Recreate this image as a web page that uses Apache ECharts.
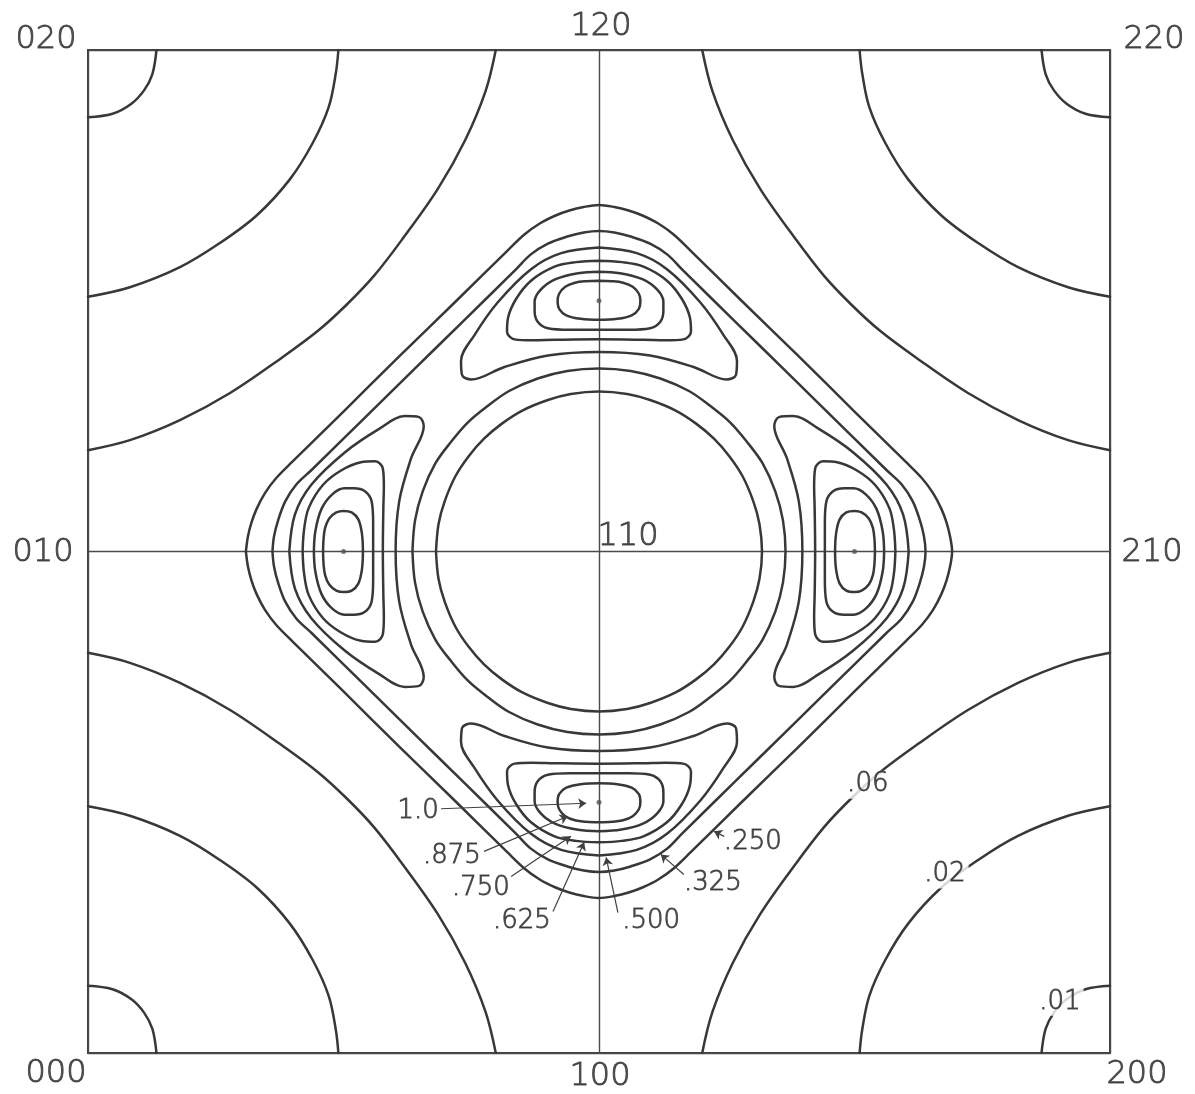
<!DOCTYPE html>
<html>
<head>
<meta charset="utf-8">
<title>Contour map, (hk0) section</title>
<script src="https://cdn.jsdelivr.net/npm/echarts@6/dist/echarts.min.js"></script>
<style>
  html, body { margin: 0; padding: 0; background: #ffffff; }
  #chart { width: 1195px; height: 1094px; }
</style>
</head>
<body>
<div id="chart"></div>
<script>
// Lattice point labels, rows k = 0, 1, 2; columns h = 0, 1, 2
const latticeRows = [
  ['000', '100', '200'],
  ['010', '110', '210'],
  ['020', '120', '220']
];

// Corner contours, traced in the 000-020-120-110 quadrant as [h, k]
const corner01 = [[0, 1.866], [0.048, 1.873], [0.085, 1.893], [0.110, 1.920], [0.126, 1.952], [0.134, 2.0]];
const corner02 = [[0, 1.508], [0.082, 1.527], [0.180, 1.567], [0.258, 1.615], [0.330, 1.670], [0.395, 1.742],
                  [0.440, 1.815], [0.471, 1.886], [0.485, 1.954], [0.490, 2.0]];
const corner06 = [[0, 1.202], [0.082, 1.222], [0.180, 1.262], [0.278, 1.316], [0.376, 1.384], [0.450, 1.440],
                  [0.507, 1.493], [0.560, 1.550], [0.616, 1.624], [0.684, 1.722], [0.738, 1.820],
                  [0.778, 1.918], [0.798, 2.0]];

// Contours around 110, one octant as offsets [dh, dk], from the -h tip to the diagonal
const diamond250 = [[-0.691, 0], [-0.687, 0.030], [-0.680, 0.058], [-0.670, 0.085], [-0.654, 0.116],
                    [-0.632, 0.146], [-0.600, 0.179], [-0.500, 0.279], [-0.390, 0.390]];
const diamond325 = [[-0.639, 0], [-0.636, 0.030], [-0.628, 0.062], [-0.614, 0.100], [-0.592, 0.134],
                    [-0.562, 0.163], [-0.460, 0.265], [-0.3625, 0.3625]];
const ringOuter = [[-0.365, 0], [-0.360, 0.062], [-0.345, 0.120], [-0.320, 0.176], [-0.290, 0.218], [-0.257, 0.257]];
const ringInner = [[-0.319, 0], [-0.314, 0.055], [-0.302, 0.100], [-0.281, 0.150], [-0.255, 0.190], [-0.225, 0.225]];

// Peak contours around 120, half loop as [along h, outward k], top -> left end -> bottom
const peak500 = [[0, 0.106], [-0.074, 0.095], [-0.133, 0.063], [-0.198, -0.003], [-0.244, -0.069],
                 [-0.270, -0.120], [-0.268, -0.148], [-0.250, -0.157], [-0.185, -0.132], [-0.100, -0.109], [0, -0.102]];
const peak625 = [[0, 0.080], [-0.045, 0.077], [-0.087, 0.068], [-0.133, 0.040], [-0.162, 0.004],
                 [-0.178, -0.034], [-0.180, -0.062], [-0.165, -0.077], [-0.130, -0.079], [-0.087, -0.078], [0, -0.077]];
const peak750 = [[0, 0.058], [-0.041, 0.055], [-0.085, 0.043], [-0.114, 0.022], [-0.126, -0.002],
                 [-0.126, -0.020], [-0.120, -0.042], [-0.100, -0.055], [-0.058, -0.058], [0, -0.058]];
const peak875 = [[0, 0.040], [-0.025, 0.039], [-0.047, 0.036], [-0.066, 0.028], [-0.078, 0.014],
                 [-0.081, 0], [-0.078, -0.016], [-0.064, -0.029], [-0.036, -0.036], [0, -0.038]];
const peakCentres = [[0.5, 1], [1, 1.5], [1.5, 1], [1, 0.5]];

// Level labels with their leaders
const levelLabels = ['1.0', '.875', '.750', '.625', '.500', '.325', '.250'];
const levelTextAt = [[0.646, 0.482], [0.712, 0.392], [0.769, 0.328], [0.849, 0.262], [1.102, 0.262], [1.223, 0.338], [1.301, 0.420]];
const leaderFrom = [[0.691, 0.487], [0.775, 0.402], [0.828, 0.352], [0.910, 0.282], [1.037, 0.280], [1.166, 0.356], [1.245, 0.432]];
const leaderTo = [[0.975, 0.498], [0.939, 0.472], [0.945, 0.432], [0.971, 0.420], [1.014, 0.390], [1.121, 0.396], [1.225, 0.442]];
const outerLabels = ['.06', '.02', '.01'];
const outerTextAt = [[1.526, 0.535], [1.677, 0.356], [1.902, 0.102]];

// ---- geometry helpers -------------------------------------------------
// the map has mirror lines h = 1, k = 1 and the diagonals through 110
function loopFromOctant(oct) {
  const q = oct.concat(oct.slice(0, -1).reverse().map(([x, y]) => [-y, -x]));
  const half = q.concat(q.slice(0, -1).reverse().map(([x, y]) => [-x, y]));
  const full = half.concat(half.slice(0, -1).reverse().map(([x, y]) => [x, -y]));
  return full.map(([x, y]) => [1 + x, 1 + y]);
}
function peakLoops(half) {
  const loop = half.concat(half.slice(0, -1).reverse().map(([x, y]) => [-x, y]));
  return [
    loop.map(([x, y]) => [1 + x, 1.5 + y]),
    loop.map(([x, y]) => [1 + x, 0.5 - y]),
    loop.map(([x, y]) => [0.5 - y, 1 - x]),
    loop.map(([x, y]) => [1.5 + y, 1 - x])
  ];
}
function cornerCopies(c) {
  return [
    c,
    c.map(([x, y]) => [2 - x, y]),
    c.map(([x, y]) => [x, 2 - y]),
    c.map(([x, y]) => [2 - x, 2 - y])
  ];
}

const INK = '#383838';
const paths = []
  .concat(cornerCopies(corner01), cornerCopies(corner02), cornerCopies(corner06))
  .concat([diamond250, diamond325, ringOuter, ringInner].map(loopFromOctant))
  .concat(peakLoops(peak500), peakLoops(peak625), peakLoops(peak750), peakLoops(peak875));

const series = paths.map(p => ({
  type: 'line',
  data: p,
  showSymbol: false,
  smooth: 0.35,
  silent: true,
  lineStyle: { color: INK, width: 2.5, cap: 'round', join: 'round' },
  z: 2
}));

// peak points
series.push({
  type: 'scatter',
  data: peakCentres,
  symbol: 'circle',
  symbolSize: 5,
  itemStyle: { color: '#555' },
  silent: true,
  z: 3
});

// leaders with arrow heads
series.push({
  type: 'lines',
  coordinateSystem: 'cartesian2d',
  data: leaderFrom.map((f, i) => ({ coords: [f, leaderTo[i]] })),
  symbol: ['none', 'arrow'],
  symbolSize: 8,
  lineStyle: { color: '#404040', width: 1.2, opacity: 1 },
  silent: true,
  z: 4
});

const textFont = {
  fontFamily: "'DejaVu Sans', sans-serif", fontWeight: 300, color: '#2f2f2f',
  textBorderColor: '#2f2f2f', textBorderWidth: 0.9
};

// level labels
series.push({
  type: 'scatter',
  clip: false,
  symbolSize: 1,
  itemStyle: { color: 'rgba(0,0,0,0)' },
  silent: true,
  z: 5,
  data: levelLabels.map((t, i) => ({ value: levelTextAt[i], name: t }))
    .concat(outerLabels.map((t, i) => ({
      value: outerTextAt[i], name: t,
      label: { backgroundColor: '#ffffff', padding: [1, 3] }
    }))),
  label: Object.assign({
    show: true, position: 'inside', formatter: '{b}', fontSize: 26,
    align: 'center', verticalAlign: 'middle'
  }, textFont)
});

// lattice point labels, set off from their points
const latticeOffsets = [
  [[-32, 21], [1, 24], [27, 22]],
  [[-45, 1], [29, -15], [42, 1]],
  [[-42, -10], [2, -23], [44, -10]]
];
const latticeData = [];
latticeRows.forEach((row, k) => row.forEach((t, h) => {
  latticeData.push({ value: [h, k], name: t, label: { offset: latticeOffsets[k][h] } });
}));
series.push({
  type: 'scatter',
  clip: false,
  symbolSize: 1,
  itemStyle: { color: 'rgba(0,0,0,0)' },
  silent: true,
  z: 5,
  data: latticeData,
  label: Object.assign({
    show: true, position: 'inside', formatter: '{b}', fontSize: 32,
    align: 'center', verticalAlign: 'middle'
  }, textFont)
});

const axisCommon = {
  type: 'value', min: 0, max: 2, interval: 1,
  axisLabel: { show: false }, axisTick: { show: false },
  axisLine: { show: false },
  splitLine: { show: true, lineStyle: { color: '#4a4a4a', width: 1.4 } }
};

const chart = echarts.init(document.getElementById('chart'), null, { renderer: 'canvas' });
chart.setOption({
  backgroundColor: '#ffffff',
  animation: false,
  grid: { left: 88, top: 50, width: 1022, height: 1003, show: true, borderColor: '#3f3f3f', borderWidth: 2, backgroundColor: 'transparent' },
  xAxis: axisCommon,
  yAxis: axisCommon,
  series: series
});
</script>
</body>
</html>
